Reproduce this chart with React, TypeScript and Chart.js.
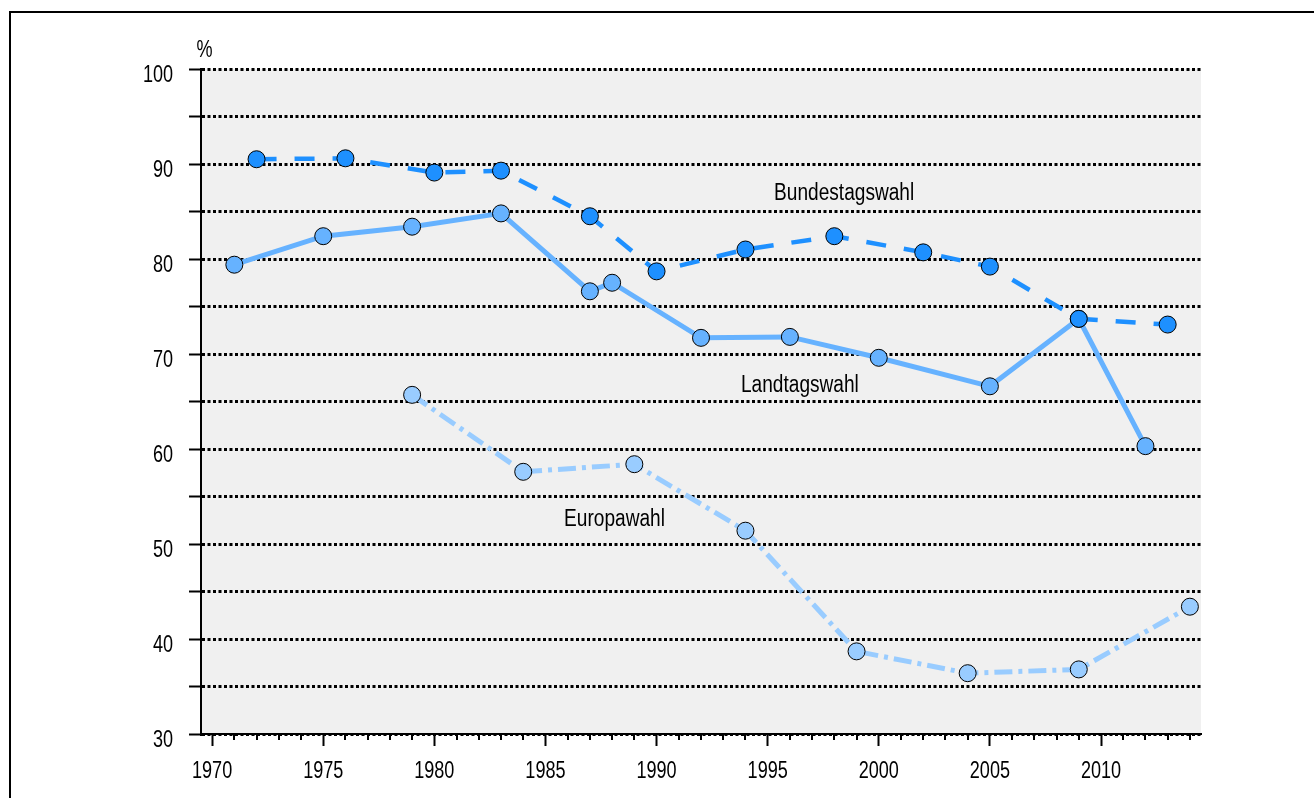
import React, { useEffect, useRef } from 'react';
import { Chart, registerables } from 'chart.js';

Chart.register(...registerables);

// ---- data ----
const bundestagYears = [1972, 1976, 1980, 1983, 1987, 1990, 1994, 1998, 2002, 2005, 2009, 2013];
const bundestagValues = [90.5, 90.6, 89.1, 89.3, 84.5, 78.7, 81.0, 82.4, 80.7, 79.2, 73.7, 73.1];
const landtagYears = [1971, 1975, 1979, 1983, 1987, 1988, 1992, 1996, 2000, 2005, 2009, 2012];
const landtagValues = [79.4, 82.4, 83.4, 84.8, 76.6, 77.5, 71.7, 71.8, 69.6, 66.6, 73.7, 60.3];
const europaYears = [1979, 1984, 1989, 1994, 1999, 2004, 2009, 2014];
const europaValues = [65.7, 57.6, 58.4, 51.4, 38.7, 36.4, 36.8, 43.4];
const seriesNames = ['Bundestagswahl', 'Landtagswahl', 'Europawahl'];
const xTickYears = [1970, 1975, 1980, 1985, 1990, 1995, 2000, 2005, 2010];
const yTickValues = [30, 35, 40, 45, 50, 55, 60, 65, 70, 75, 80, 85, 90, 95, 100];
const yUnit = '%';

// label anchors (data coordinates, left edge / baseline) for the series names
const labelAnchors = [
  { x: 1995.29, y: 86.2 },
  { x: 1993.8, y: 66.05 },
  { x: 1985.84, y: 51.9 },
];

const FONT_FAMILY = "'Liberation Sans', Arial, sans-serif";
const FONT_SIZE = 23;
const NUM_SCALE = 0.785; // narrow-face emulation for numbers
const WORD_SCALE = 0.83; // narrow-face emulation for words
const COLORS = ['#1E90FF', '#66B2FF', '#99CCFF'];

const toPoints = (xs: number[], ys: number[]) => xs.map((x, i) => ({ x, y: ys[i] }));

function narrowText(ctx: CanvasRenderingContext2D, text: string, x: number, y: number, sx: number, align: CanvasTextAlign) {
  ctx.save();
  ctx.translate(x, y);
  ctx.scale(sx, 1);
  ctx.textAlign = align;
  ctx.textBaseline = 'alphabetic';
  ctx.fillText(text, 0, 0);
  ctx.restore();
}

const framePlugin = {
  id: 'frame',
  beforeDraw(chart: any) {
    const { ctx, chartArea } = chart;
    ctx.save();
    ctx.fillStyle = '#F0F0F0';
    ctx.fillRect(chartArea.left, chartArea.top, chartArea.right - chartArea.left, chartArea.bottom - chartArea.top);
    ctx.strokeStyle = '#000';
    ctx.lineWidth = 2;
    ctx.beginPath();
    ctx.moveTo(10, chart.height);
    ctx.lineTo(10, 12);
    ctx.lineTo(chart.width, 12);
    ctx.stroke();
    ctx.restore();
  },
  afterDraw(chart: any) {
    const { ctx } = chart;
    const xs = chart.scales.x;
    const ys = chart.scales.y;
    ctx.save();
    // minor ticks every year
    ctx.strokeStyle = '#000';
    ctx.lineWidth = 2;
    const y0 = ys.getPixelForValue(ys.min);
    for (let yr = Math.ceil(xs.min); yr <= Math.floor(xs.max); yr++) {
      if (xTickYears.includes(yr)) continue;
      const px = Math.round(xs.getPixelForValue(yr));
      ctx.beginPath();
      ctx.moveTo(px, y0);
      ctx.lineTo(px, y0 + 6);
      ctx.stroke();
    }
    ctx.fillStyle = '#000';
    ctx.font = `${FONT_SIZE}px ${FONT_FAMILY}`;
    // x tick labels
    xs.ticks.forEach((t: any) => {
      if (!t.label) return;
      narrowText(ctx, String(t.label), xs.getPixelForValue(t.value), y0 + 44, NUM_SCALE, 'center');
    });
    // y tick labels
    ys.ticks.forEach((t: any) => {
      if (!t.label) return;
      narrowText(ctx, String(t.label), chart.chartArea.left - 28, ys.getPixelForValue(t.value) + 12.5, NUM_SCALE, 'right');
    });
    // unit label
    narrowText(ctx, yUnit, chart.chartArea.left + 3.5, 57, NUM_SCALE, 'center');
    // series labels
    labelAnchors.forEach((a, i) => {
      narrowText(ctx, seriesNames[i], xs.getPixelForValue(a.x), ys.getPixelForValue(a.y), WORD_SCALE, 'left');
    });
    ctx.restore();
  },
};

export default function App() {
  const canvasRef = useRef<HTMLCanvasElement | null>(null);

  useEffect(() => {
    if (!canvasRef.current) return;
    const common = {
      pointRadius: 8.5,
      pointHoverRadius: 8.5,
      pointBorderColor: '#000',
      pointBorderWidth: 1,
      fill: false,
      tension: 0,
    };
    const chart = new Chart(canvasRef.current, {
      type: 'line',
      data: {
        datasets: [
          {
            ...common,
            label: seriesNames[0],
            data: toPoints(bundestagYears, bundestagValues),
            borderColor: COLORS[0],
            backgroundColor: COLORS[0],
            pointBackgroundColor: COLORS[0],
            borderWidth: 4.5,
            borderDash: [20, 18],
          },
          {
            ...common,
            label: seriesNames[1],
            data: toPoints(landtagYears, landtagValues),
            borderColor: COLORS[1],
            backgroundColor: COLORS[1],
            pointBackgroundColor: COLORS[1],
            borderWidth: 5,
          },
          {
            ...common,
            label: seriesNames[2],
            data: toPoints(europaYears, europaValues),
            borderColor: COLORS[2],
            backgroundColor: COLORS[2],
            pointBackgroundColor: COLORS[2],
            borderWidth: 5,
            borderDash: [18, 6, 4, 6],
          },
        ],
      },
      options: {
        animation: false,
        responsive: false,
        events: [],
        layout: { padding: { left: 0, top: 69, right: 113, bottom: 0 } },
        plugins: {
          legend: { display: false },
          tooltip: { enabled: false },
          title: { display: false },
        },
        scales: {
          x: {
            type: 'linear',
            position: 'bottom',
            min: 1969.5,
            max: 2014.5,
            afterBuildTicks: (s: any) => {
              s.ticks = xTickYears.map((v) => ({ value: v }));
            },
            afterFit: (s: any) => {
              s.height = 64;
            },
            ticks: {
              display: false,
              autoSkip: false,
              maxRotation: 0,
              callback: (v: any) => String(v),
            },
            grid: {
              drawOnChartArea: false,
              drawTicks: true,
              tickLength: 12,
              tickWidth: 2,
              tickColor: '#000',
            },
            border: { display: true, color: '#000', width: 2 },
          },
          y: {
            type: 'linear',
            min: 30,
            max: 100,
            afterBuildTicks: (s: any) => {
              s.ticks = yTickValues.map((v) => ({ value: v }));
            },
            afterFit: (s: any) => {
              s.width = 201;
            },
            ticks: {
              display: false,
              autoSkip: false,
              callback: (v: any) => (Number(v) % 10 === 0 ? String(v) : ''),
            },
            grid: {
              color: '#000',
              lineWidth: 3,
              drawTicks: true,
              tickLength: 12,
              tickWidth: 2,
              tickColor: '#000',
              tickBorderDash: [],
            },
            border: { display: true, color: '#000', width: 2, dash: [3, 2.5] },
          },
        },
      },
      plugins: [framePlugin],
    } as any);
    return () => chart.destroy();
  }, []);

  return (
    <div style={{ position: 'fixed', left: 0, top: 0, width: 1314, height: 798, background: '#fff' }}>
      <canvas ref={canvasRef} width={1314} height={798} style={{ display: 'block' }} />
    </div>
  );
}
